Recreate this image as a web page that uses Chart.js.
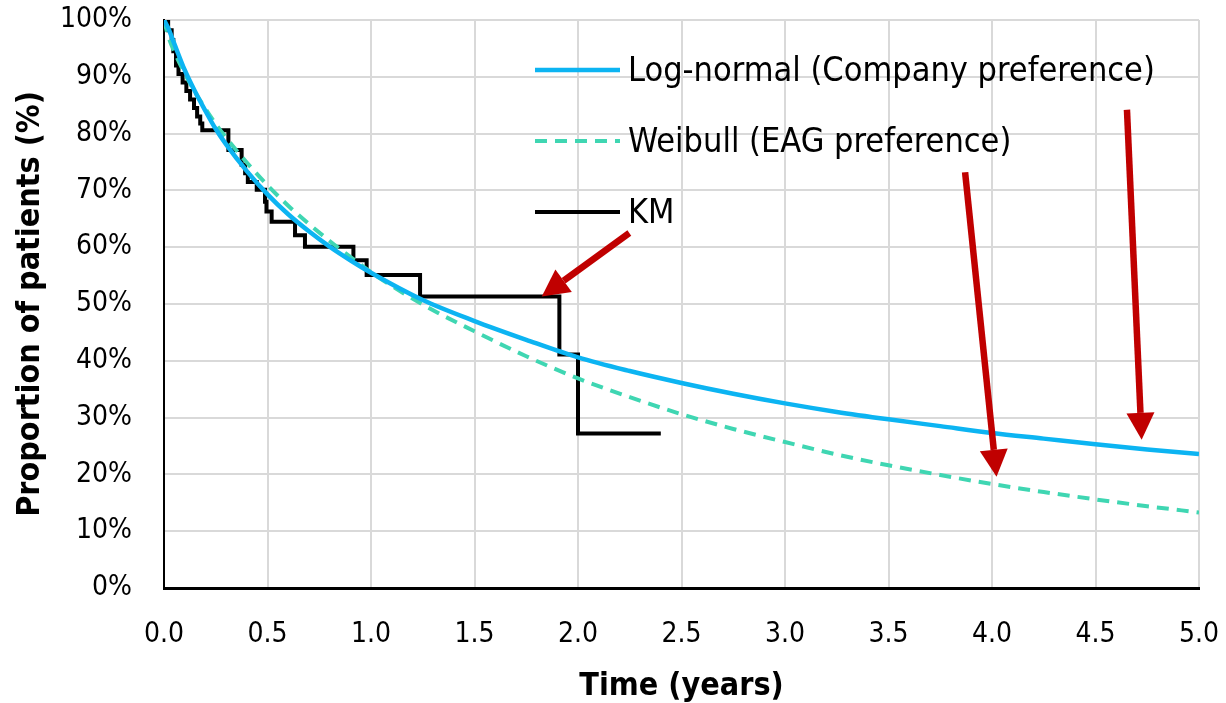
<!DOCTYPE html>
<html>
<head>
<meta charset="utf-8">
<script src="https://cdn.jsdelivr.net/npm/chart.js@4"></script>
<style>
  html, body { margin: 0; padding: 0; background: #fff; }
  #wrap { width: 1226px; height: 703px; }
</style>
</head>
<body>
<div id="wrap"><canvas id="grafico"></canvas></div>
<script>
// Tempos das curvas ajustadas (anos)
const tempos = [0, 0.02, 0.05, 0.1, 0.15, 0.2, 0.25, 0.3, 0.4, 0.5, 0.6, 0.7, 0.8, 0.9, 1.0,
  1.25, 1.5, 1.75, 2.0, 2.25, 2.5, 2.75, 3.0, 3.25, 3.5, 3.75, 4.0, 4.25, 4.5, 4.75, 5.0];

// Log-normal (Company preference), %
const logNormal = [100, 98.6, 95.8, 91.2, 87.4, 84.0, 80.8, 78.1, 73.4, 69.3, 65.8, 62.8, 60.1, 57.7, 55.5,
  50.7, 47.0, 43.7, 40.6, 38.2, 36.1, 34.2, 32.5, 31.0, 29.7, 28.5, 27.3, 26.3, 25.3, 24.4, 23.6];

// Weibull (EAG preference), %
const weibull = [100, 97.2, 94.4, 90.6, 87.3, 84.4, 81.7, 79.3, 74.9, 70.9, 67.3, 64.1, 61.1, 58.3, 55.6,
  49.9, 45.2, 40.8, 36.9, 33.6, 30.6, 28.0, 25.7, 23.5, 21.6, 19.9, 18.3, 16.9, 15.6, 14.4, 13.3];

// Kaplan-Meier (degraus)
const kmTempos = [0, 0.02, 0.037, 0.045, 0.058, 0.07, 0.09, 0.108, 0.126, 0.145, 0.16, 0.175, 0.185,
  0.311, 0.375, 0.392, 0.405, 0.448, 0.488, 0.495, 0.520, 0.633, 0.681, 0.915, 0.979, 1.237, 1.91, 2.00, 2.40];
const kmValores = [100, 98.2, 96.5, 94.5, 92.0, 90.5, 89.0, 87.5, 86.0, 84.5, 83.0, 81.8, 80.6,
  77.1, 74.5, 73.0, 71.5, 70.1, 68.0, 66.3, 64.5, 62.1, 60.1, 57.7, 55.1, 51.3, 41.1, 27.2, 27.2];

// Eixos
const ticksX = [0, 0.5, 1.0, 1.5, 2.0, 2.5, 3.0, 3.5, 4.0, 4.5, 5.0];
const ticksY = [0, 10, 20, 30, 40, 50, 60, 70, 80, 90, 100];

// Legenda
const rotulos = ['Log-normal (Company preference)', 'Weibull (EAG preference)', 'KM'];

// Setas vermelhas (coordenadas em anos / %)
const setas = [
  { de: [2.248, 62.5], para: [1.825, 51.3] },
  { de: [3.870, 73.2], para: [4.022, 19.6] },
  { de: [4.652, 84.2], para: [4.723, 26.1] },
];

const fonte = "'DejaVu Sans Condensed', 'DejaVu Sans', sans-serif";
const corAzul = '#0cb4f2';
const corVerde = '#3fd6b2';

const pontos = (xs, ys) => xs.map((x, i) => ({ x: x, y: ys[i] }));

// Legenda desenhada dentro da área do gráfico
const legendaPlugin = {
  id: 'legendaInterna',
  afterDatasetsDraw(chart) {
    const ctx = chart.ctx;
    const estilos = [
      { cor: corAzul, dash: [], largura: 4.5 },
      { cor: corVerde, dash: [12, 8], largura: 4 },
      { cor: '#000', dash: [], largura: 4 },
    ];
    const x0 = 535, x1 = 620, yBase = 70, passo = 71;
    ctx.save();
    rotulos.forEach((txt, i) => {
      const y = yBase + i * passo;
      ctx.beginPath();
      ctx.setLineDash(estilos[i].dash);
      ctx.strokeStyle = estilos[i].cor;
      ctx.lineWidth = estilos[i].largura;
      ctx.moveTo(x0, y);
      ctx.lineTo(x1, y);
      ctx.stroke();
      ctx.setLineDash([]);
      ctx.fillStyle = '#000';
      ctx.font = '34px ' + fonte;
      ctx.textBaseline = 'middle';
      ctx.textAlign = 'left';
      ctx.fillText(txt, 628, y + 2);
    });
    ctx.restore();
  }
};

// Setas
const setasPlugin = {
  id: 'setas',
  afterDatasetsDraw(chart) {
    const ctx = chart.ctx;
    const sx = chart.scales.x, sy = chart.scales.y;
    ctx.save();
    ctx.strokeStyle = '#c00000';
    ctx.fillStyle = '#c00000';
    ctx.lineWidth = 6.5;
    setas.forEach(s => {
      const ax = sx.getPixelForValue(s.de[0]), ay = sy.getPixelForValue(s.de[1]);
      const bx = sx.getPixelForValue(s.para[0]), by = sy.getPixelForValue(s.para[1]);
      const ang = Math.atan2(by - ay, bx - ax);
      const comp = 27, larg = 14;
      const cx = bx - comp * Math.cos(ang), cy = by - comp * Math.sin(ang);
      ctx.beginPath();
      ctx.moveTo(ax, ay);
      ctx.lineTo(cx, cy);
      ctx.stroke();
      ctx.beginPath();
      ctx.moveTo(bx, by);
      ctx.lineTo(cx + larg * Math.sin(ang), cy - larg * Math.cos(ang));
      ctx.lineTo(cx - larg * Math.sin(ang), cy + larg * Math.cos(ang));
      ctx.closePath();
      ctx.fill();
    });
    ctx.restore();
  }
};

const ctx = document.getElementById('grafico').getContext('2d');
new Chart(ctx, {
  type: 'scatter',
  data: {
    datasets: [
      {
        label: rotulos[0],
        data: pontos(tempos, logNormal),
        showLine: true,
        borderColor: corAzul,
        borderWidth: 4.5,
        pointRadius: 0,
        cubicInterpolationMode: 'monotone',
      },
      {
        label: rotulos[1],
        data: pontos(tempos, weibull),
        showLine: true,
        borderColor: corVerde,
        borderWidth: 4,
        borderDash: [12, 8],
        pointRadius: 0,
        cubicInterpolationMode: 'monotone',
      },
      {
        label: rotulos[2],
        data: pontos(kmTempos, kmValores),
        showLine: true,
        borderColor: '#000',
        borderWidth: 4,
        pointRadius: 0,
        stepped: 'before',
      },
    ]
  },
  options: {
    responsive: true,
    maintainAspectRatio: false,
    animation: false,
    layout: { padding: { top: 20, right: 27, bottom: 0, left: 0 } },
    plugins: {
      legend: { display: false },
      tooltip: { enabled: false },
    },
    scales: {
      x: {
        type: 'linear',
        min: 0,
        max: 5,
        afterBuildTicks: s => { s.ticks = ticksX.map(v => ({ value: v })); },
        afterFit: s => { s.height = 115; s.paddingLeft = 0; s.paddingRight = 0; },
        grid: { color: '#d9d9d9', lineWidth: 2, drawTicks: false },
        border: { color: '#000', width: 3 },
        ticks: {
          padding: 30,
          color: '#000',
          font: { family: fonte, size: 28 },
          maxRotation: 0,
          callback: v => v.toFixed(1),
        },
        title: {
          display: true,
          text: 'Time (years)',
          color: '#000',
          font: { family: fonte, size: 32, weight: 'bold' },
          padding: { top: 0, bottom: -3 },
        },
      },
      y: {
        min: 0,
        max: 100,
        afterBuildTicks: s => { s.ticks = ticksY.map(v => ({ value: v })); },
        afterFit: s => { s.width = 164; s.paddingTop = 0; s.paddingBottom = 0; },
        grid: { color: '#d9d9d9', lineWidth: 2, drawTicks: false },
        border: { color: '#000', width: 2 },
        ticks: {
          padding: 32,
          color: '#000',
          font: { family: fonte, size: 28 },
          callback: v => v + '%',
        },
        title: {
          display: true,
          text: 'Proportion of patients (%)',
          color: '#000',
          font: { family: fonte, size: 32, weight: 'bold' },
          padding: { top: 11, bottom: 0 },
        },
      },
    },
  },
  plugins: [setasPlugin, legendaPlugin],
});
</script>
</body>
</html>
